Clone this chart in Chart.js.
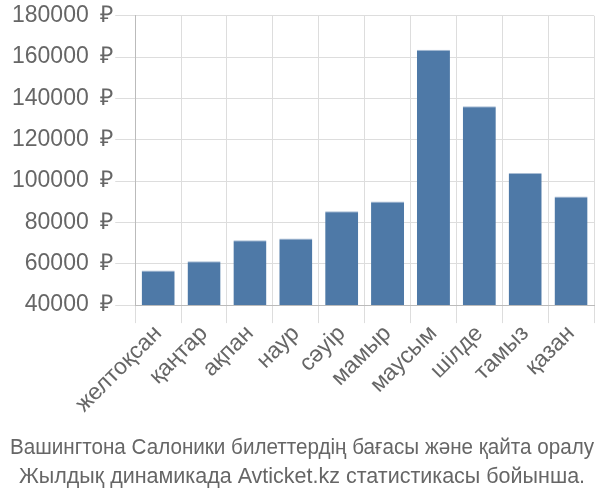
<!DOCTYPE html>
<html>
<head>
<meta charset="utf-8">
<script src="https://cdn.jsdelivr.net/npm/chart.js@4"></script>
<style>
  html, body { margin: 0; padding: 0; background: #fff; }
  #wrap { width: 600px; height: 500px; }
</style>
</head>
<body>
<div id="wrap"><canvas id="myChart"></canvas></div>
<script>
const months = ["желтоқсан", "қаңтар", "ақпан", "наур", "сәуір", "мамыр", "маусым", "шілде", "тамыз", "қазан"];
const prices = [56800, 61200, 71400, 72200, 85400, 90100, 163600, 136200, 103900, 92600];
const yMin = 40000;
const yMax = 180000;
const yStep = 20000;
const titleLines = [
  "Вашингтона Салоники билеттердің бағасы және қайта оралу",
  "Жылдық динамикада Avticket.kz статистикасы бойынша."
];

const ctx = document.getElementById("myChart").getContext("2d");
Chart.defaults.font.family = "'Liberation Sans', Arial, sans-serif";
Chart.defaults.color = "#666";

new Chart(ctx, {
  type: "bar",
  data: {
    labels: months,
    datasets: [
      {
        data: prices,
        backgroundColor: "#4e79a7",
        borderColor: "#a9bdd4",
        borderWidth: { top: 1 },
        borderSkipped: "bottom",
      },
    ],
  },
  options: {
    responsive: true,
    maintainAspectRatio: false,
    animation: false,
    layout: { padding: { top: 4, right: 6, left: 10, bottom: 0 } },
    scales: {
      x: {
        grid: { color: "#ddd", tickLength: 18 },
        border: { color: "#bbb" },
        ticks: {
          color: "#666",
          font: { size: 23 },
          maxRotation: 45,
          minRotation: 45,
          padding: -3,
        },
      },
      y: {
        min: yMin,
        max: yMax,
        grid: { color: "#ddd", tickLength: 20 },
        border: { color: "#bbb" },
        ticks: {
          stepSize: yStep,
          color: "#666",
          font: { size: 23 },
          padding: 2,
          callback: (v) => v + "\u2002₽",
        },
      },
    },
    plugins: {
      legend: { display: false },
      tooltip: { enabled: false },
      title: {
        display: true,
        position: "bottom",
        text: titleLines,
        color: "#666",
        font: { size: 21.5, weight: "normal", lineHeight: 1.37, family: "'Liberation Sans Narrow', 'Liberation Sans', sans-serif" },
        padding: { top: 18, bottom: 8 },
      },
    },
  },
});
</script>
</body>
</html>
